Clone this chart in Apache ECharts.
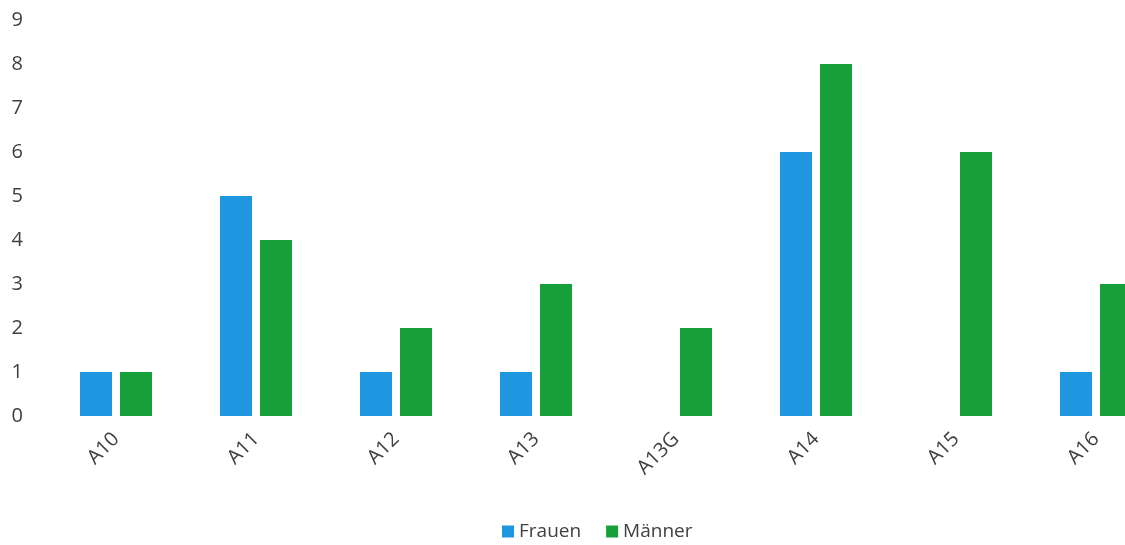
<!DOCTYPE html>
<html><head><meta charset="utf-8">
<script src="https://cdn.jsdelivr.net/npm/echarts@6/dist/echarts.min.js"></script>
<style>html,body{margin:0;padding:0;background:#fff}#c{width:1125px;height:545px}</style>
</head><body><div id="c"></div>
<script>
const categories = ['A10','A11','A12','A13','A13G','A14','A15','A16'];
const frauen = [1,5,1,1,0,6,0,1];
const maenner = [1,4,2,3,2,8,6,3];
const yTicks = [0,1,2,3,4,5,6,7,8,9];

const font = 'Open Sans';
const chart = echarts.init(document.getElementById('c'));
chart.setOption({
  animation:false,
  textStyle:{fontFamily:font},
  grid:{left:46,width:1120,top:20,height:396,outerBoundsMode:'none'},
  legend:{
    left:497, top:517, itemWidth:12, itemHeight:12, itemGap:25, icon:'rect',
    textStyle:{fontFamily:font,fontSize:19,color:'#404040'},
    data:['Frauen','Männer']
  },
  xAxis:{
    type:'category', data:categories,
    axisLine:{show:false}, axisTick:{show:false},
    axisLabel:{rotate:45,fontSize:20,color:'#404040',margin:20,fontFamily:font}
  },
  yAxis:{
    type:'value', min:0, max:9, interval:1,
    splitLine:{show:false}, axisLine:{show:false}, axisTick:{show:false},
    axisLabel:{fontSize:20,color:'#404040',margin:23,fontFamily:font,
      formatter:v=>yTicks.includes(v)?String(v):''}
  },
  series:[
    {name:'Frauen',type:'bar',data:frauen,barWidth:32,barGap:'25%',itemStyle:{color:'#1E96E0'}},
    {name:'Männer',type:'bar',data:maenner,barWidth:32,itemStyle:{color:'#17A03A'}}
  ]
});
</script></body></html>
